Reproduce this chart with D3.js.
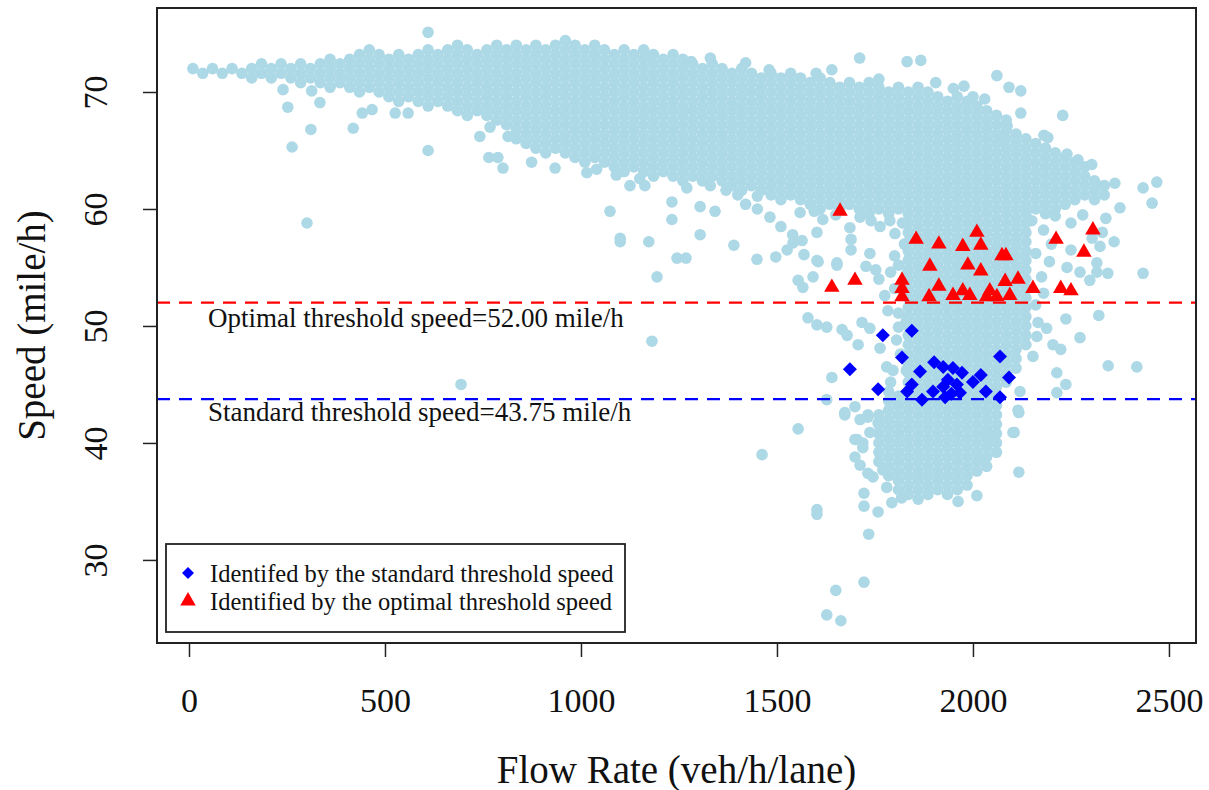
<!DOCTYPE html>
<html lang="en">
<head>
  <meta charset="UTF-8">
  <title>Speed vs Flow Rate</title>
  <script src="https://d3js.org/d3.v7.min.js"></script>
  <style>
    body {
      margin: 0;
      background: #fff;
      font-family: "Liberation Serif", "Times New Roman", serif;
    }
    .dot { fill: #ADD8E6; }
    .tick line { stroke: #222; stroke-width: 1.5px; }
    .tick text { font-family: "Liberation Serif", "Times New Roman", serif; font-size: 34px; fill: #111; }
    .title { font-size: 39px; fill: #111; text-anchor: middle; }
    .note { font-size: 27px; fill: #111; }
    .legend text { font-size: 24.5px; fill: #111; }
  </style>
</head>
<body>
  <svg width="1209" height="790"></svg>
  <script>
    // tick labels
    const xTicks = [0, 500, 1000, 1500, 2000, 2500];
    const yTicks = [30, 40, 50, 60, 70];

    // threshold speeds (mile/h)
    const optimalSpeed = 52.00;
    const standardSpeed = 43.75;

    // dense observation cloud, read column by column: [flow, "speeds"]
    const bandColumns = [
      [10, "72.0"], [35, "71.6"], [60, "72.0"], [85, "71.6"], [110, "72.0"], [135, "71.6"],
      [160, "72.0 71.2"], [185, "72.4 71.6"], [210, "72.0 71.2"], [235, "72.4 71.6"],
      [260, "72.0 71.2"], [285, "72.4 71.6 70.8"], [310, "72.0 71.2"], [335, "72.4 71.6 70.8"],
      [360, "72.8 72.0 71.2 70.4"], [385, "72.4 71.6 70.8"], [410, "72.8 72.0 71.2 70.4"],
      [435, "73.2 72.4 71.6 70.8 70.0"], [460, "73.6 72.8 72.0 71.2 70.4"],
      [485, "73.2 72.4 71.6 70.8 70.0"], [510, "72.8 72.0 71.2 70.4 69.6"],
      [535, "73.2 72.4 71.6 70.8 70.0 69.2"], [560, "72.8 72.0 71.2 70.4 69.6"],
      [585, "73.2 72.4 71.6 70.8 70.0 69.2"], [610, "73.6 72.8 72.0 71.2 70.4 69.6 68.8"],
      [635, "73.2 72.4 71.6 70.8 70.0 69.2"], [660, "73.6 72.8 72.0 71.2 70.4 69.6 68.8"],
      [685, "74.0 73.2 72.4 71.6 70.8 70.0 69.2 68.4"], [710, "73.6 72.8 72.0 71.2 70.4 69.6 68.8 68.0"],
      [735, "73.2 72.4 71.6 70.8 70.0 69.2 68.4"], [760, "73.6 72.8 72.0 71.2 70.4 69.6 68.8 68.0"],
      [785, "74.0 73.2 72.4 71.6 70.8 70.0 69.2 68.4 67.6"],
      [810, "73.6 72.8 72.0 71.2 70.4 69.6 68.8 68.0 67.2"],
      [835, "74.0 73.2 72.4 71.6 70.8 70.0 69.2 68.4 67.6 66.8 66.0"],
      [860, "73.6 72.8 72.0 71.2 70.4 69.6 68.8 68.0 67.2 66.4 65.6"],
      [885, "74.0 73.2 72.4 71.6 70.8 70.0 69.2 68.4 67.6 66.8 66.0 65.2"],
      [910, "73.6 72.8 72.0 71.2 70.4 69.6 68.8 68.0 67.2 66.4 65.6 64.8"],
      [935, "74.0 73.2 72.4 71.6 70.8 70.0 69.2 68.4 67.6 66.8 66.0 65.2"],
      [960, "74.4 73.6 72.8 72.0 71.2 70.4 69.6 68.8 68.0 67.2 66.4 65.6 64.8"],
      [985, "74.0 73.2 72.4 71.6 70.8 70.0 69.2 68.4 67.6 66.8 66.0 65.2 64.4"],
      [1010, "73.6 72.8 72.0 71.2 70.4 69.6 68.8 68.0 67.2 66.4 65.6 64.8 64.0"],
      [1035, "74.0 73.2 72.4 71.6 70.8 70.0 69.2 68.4 67.6 66.8 66.0 65.2 64.4"],
      [1060, "73.6 72.8 72.0 71.2 70.4 69.6 68.8 68.0 67.2 66.4 65.6 64.8 64.0"],
      [1085, "73.2 72.4 71.6 70.8 70.0 69.2 68.4 67.6 66.8 66.0 65.2 64.4 63.6"],
      [1110, "73.6 72.8 72.0 71.2 70.4 69.6 68.8 68.0 67.2 66.4 65.6 64.8 64.0 63.2"],
      [1135, "73.2 72.4 71.6 70.8 70.0 69.2 68.4 67.6 66.8 66.0 65.2 64.4 63.6"],
      [1160, "73.6 72.8 72.0 71.2 70.4 69.6 68.8 68.0 67.2 66.4 65.6 64.8 64.0 63.2"],
      [1185, "73.2 72.4 71.6 70.8 70.0 69.2 68.4 67.6 66.8 66.0 65.2 64.4 63.6 62.8"],
      [1210, "72.8 72.0 71.2 70.4 69.6 68.8 68.0 67.2 66.4 65.6 64.8 64.0 63.2"],
      [1235, "73.2 72.4 71.6 70.8 70.0 69.2 68.4 67.6 66.8 66.0 65.2 64.4 63.6 62.8"],
      [1260, "72.8 72.0 71.2 70.4 69.6 68.8 68.0 67.2 66.4 65.6 64.8 64.0 63.2 62.4"],
      [1285, "72.4 71.6 70.8 70.0 69.2 68.4 67.6 66.8 66.0 65.2 64.4 63.6 62.8"],
      [1310, "72.0 71.2 70.4 69.6 68.8 68.0 67.2 66.4 65.6 64.8 64.0 63.2 62.4"],
      [1335, "72.4 71.6 70.8 70.0 69.2 68.4 67.6 66.8 66.0 65.2 64.4 63.6 62.8"],
      [1360, "72.0 71.2 70.4 69.6 68.8 68.0 67.2 66.4 65.6 64.8 64.0 63.2 62.4"],
      [1385, "71.6 70.8 70.0 69.2 68.4 67.6 66.8 66.0 65.2 64.4 63.6 62.8 62.0"],
      [1410, "72.0 71.2 70.4 69.6 68.8 68.0 67.2 66.4 65.6 64.8 64.0 63.2 62.4 61.6"],
      [1435, "71.6 70.8 70.0 69.2 68.4 67.6 66.8 66.0 65.2 64.4 63.6 62.8 62.0"],
      [1460, "71.2 70.4 69.6 68.8 68.0 67.2 66.4 65.6 64.8 64.0 63.2 62.4 61.6"],
      [1485, "71.6 70.8 70.0 69.2 68.4 67.6 66.8 66.0 65.2 64.4 63.6 62.8 62.0 61.2"],
      [1510, "71.2 70.4 69.6 68.8 68.0 67.2 66.4 65.6 64.8 64.0 63.2 62.4 61.6 60.8"],
      [1535, "71.6 70.8 70.0 69.2 68.4 67.6 66.8 66.0 65.2 64.4 63.6 62.8 62.0 61.2"],
      [1560, "71.2 70.4 69.6 68.8 68.0 67.2 66.4 65.6 64.8 64.0 63.2 62.4 61.6 60.8"],
      [1585, "70.8 70.0 69.2 68.4 67.6 66.8 66.0 65.2 64.4 63.6 62.8 62.0 61.2 60.4"],
      [1610, "71.2 70.4 69.6 68.8 68.0 67.2 66.4 65.6 64.8 64.0 63.2 62.4 61.6 60.8 60.0"],
      [1635, "70.8 70.0 69.2 68.4 67.6 66.8 66.0 65.2 64.4 63.6 62.8 62.0 61.2 60.4"],
      [1660, "70.4 69.6 68.8 68.0 67.2 66.4 65.6 64.8 64.0 63.2 62.4 61.6 60.8 60.0"],
      [1685, "70.8 70.0 69.2 68.4 67.6 66.8 66.0 65.2 64.4 63.6 62.8 62.0 61.2 60.4"],
      [1710, "70.4 69.6 68.8 68.0 67.2 66.4 65.6 64.8 64.0 63.2 62.4 61.6 60.8 60.0"],
      [1735, "70.8 70.0 69.2 68.4 67.6 66.8 66.0 65.2 64.4 63.6 62.8 62.0 61.2 60.4 59.6"],
      [1760, "70.4 69.6 68.8 68.0 67.2 66.4 65.6 64.8 64.0 63.2 62.4 61.6 60.8 60.0"],
      [1785, "70.0 69.2 68.4 67.6 66.8 66.0 65.2 64.4 63.6 62.8 62.0 61.2 60.4 59.6"],
      [1810, "70.4 69.6 68.8 68.0 67.2 66.4 65.6 64.8 64.0 63.2 62.4 61.6 60.8 60.0"],
      [2160, "65.6 64.8 64.0 63.2 62.4 61.6 60.8 60.0"],
      [2185, "65.2 64.4 63.6 62.8 62.0 61.2 60.4 59.6"],
      [2210, "64.8 64.0 63.2 62.4 61.6 60.8 60.0"],
      [2235, "64.4 63.6 62.8 62.0 61.2 60.4"],
      [2260, "64.0 63.2 62.4 61.6 60.8"],
      [2285, "63.6 62.8 62.0 61.2"],
      [2310, "62.4 61.6 60.8"],
      [2335, "62.0 61.2"]
    ];

    // the congested core around 1800-2150 veh/h/lane
    const coreColumns = [
      [1760, "42.4 41.6 40.8 40.0 39.2 38.4"],
      [1785, "44.4 43.6 42.8 42.0 41.2 40.4 39.6 38.8 38.0 37.2"],
      [1810, "44.0 43.2 42.4 41.6 40.8 40.0 39.2 38.4 37.6 36.8 36.0"],
      [1835, "70.0 69.2 68.4 67.6 66.8 66.0 65.2 64.4 63.6 62.8 62.0 61.2 60.4 59.6 58.8 58.0 57.2 56.4 55.6 54.8 54.0 53.2 52.4 51.6 50.8 50.0 49.2 48.4 47.6 46.8 46.0 45.2 44.4 43.6 42.8 42.0 41.2 40.4 39.6 38.8 38.0 37.2 36.4 35.6"],
      [1860, "70.4 69.6 68.8 68.0 67.2 66.4 65.6 64.8 64.0 63.2 62.4 61.6 60.8 60.0 59.2 58.4 57.6 56.8 56.0 55.2 54.4 53.6 52.8 52.0 51.2 50.4 49.6 48.8 48.0 47.2 46.4 45.6 44.8 44.0 43.2 42.4 41.6 40.8 40.0 39.2 38.4 37.6 36.8 36.0 35.2"],
      [1885, "70.0 69.2 68.4 67.6 66.8 66.0 65.2 64.4 63.6 62.8 62.0 61.2 60.4 59.6 58.8 58.0 57.2 56.4 55.6 54.8 54.0 53.2 52.4 51.6 50.8 50.0 49.2 48.4 47.6 46.8 46.0 45.2 44.4 43.6 42.8 42.0 41.2 40.4 39.6 38.8 38.0 37.2 36.4 35.6"],
      [1910, "69.6 68.8 68.0 67.2 66.4 65.6 64.8 64.0 63.2 62.4 61.6 60.8 60.0 59.2 58.4 57.6 56.8 56.0 55.2 54.4 53.6 52.8 52.0 51.2 50.4 49.6 48.8 48.0 47.2 46.4 45.6 44.8 44.0 43.2 42.4 41.6 40.8 40.0 39.2 38.4 37.6 36.8 36.0"],
      [1935, "69.2 68.4 67.6 66.8 66.0 65.2 64.4 63.6 62.8 62.0 61.2 60.4 59.6 58.8 58.0 57.2 56.4 55.6 54.8 54.0 53.2 52.4 51.6 50.8 50.0 49.2 48.4 47.6 46.8 46.0 45.2 44.4 43.6 42.8 42.0 41.2 40.4 39.6 38.8 38.0 37.2 36.4 35.6"],
      [1960, "69.6 68.8 68.0 67.2 66.4 65.6 64.8 64.0 63.2 62.4 61.6 60.8 60.0 59.2 58.4 57.6 56.8 56.0 55.2 54.4 53.6 52.8 52.0 51.2 50.4 49.6 48.8 48.0 47.2 46.4 45.6 44.8 44.0 43.2 42.4 41.6 40.8 40.0 39.2 38.4 37.6 36.8 36.0"],
      [1985, "69.2 68.4 67.6 66.8 66.0 65.2 64.4 63.6 62.8 62.0 61.2 60.4 59.6 58.8 58.0 57.2 56.4 55.6 54.8 54.0 53.2 52.4 51.6 50.8 50.0 49.2 48.4 47.6 46.8 46.0 45.2 44.4 43.6 42.8 42.0 41.2 40.4 39.6 38.8 38.0 37.2 36.4"],
      [2010, "68.8 68.0 67.2 66.4 65.6 64.8 64.0 63.2 62.4 61.6 60.8 60.0 59.2 58.4 57.6 56.8 56.0 55.2 54.4 53.6 52.8 52.0 51.2 50.4 49.6 48.8 48.0 47.2 46.4 45.6 44.8 44.0 43.2 42.4 41.6 40.8 40.0 39.2 38.4 37.6"],
      [2035, "68.4 67.6 66.8 66.0 65.2 64.4 63.6 62.8 62.0 61.2 60.4 59.6 58.8 58.0 57.2 56.4 55.6 54.8 54.0 53.2 52.4 51.6 50.8 50.0 49.2 48.4 47.6 46.8 46.0 45.2 44.4 43.6 42.8 42.0 41.2 40.4 39.6 38.8 38.0"],
      [2060, "68.0 67.2 66.4 65.6 64.8 64.0 63.2 62.4 61.6 60.8 60.0 59.2 58.4 57.6 56.8 56.0 55.2 54.4 53.6 52.8 52.0 51.2 50.4 49.6 48.8 48.0 47.2 46.4 45.6 44.8 44.0 43.2 42.4 41.6 40.8 40.0 39.2"],
      [2085, "67.6 66.8 66.0 65.2 64.4 63.6 62.8 62.0 61.2 60.4 59.6 58.8 58.0 57.2 56.4 55.6 54.8 54.0 53.2 52.4 51.6 50.8 50.0 49.2 48.4 47.6 46.8 46.0 45.2"],
      [2110, "66.4 65.6 64.8 64.0 63.2 62.4 61.6 60.8 60.0 59.2 58.4 57.6 56.8 56.0 55.2 54.4 53.6 52.8 52.0 51.2 50.4 49.6 48.8 48.0 47.2 46.4"],
      [2135, "66.0 65.2 64.4 63.6 62.8 62.0 61.2 60.4 59.6 58.8 58.0 57.2 56.4 55.6 54.8 54.0 53.2 52.4 51.6 50.8 50.0 49.2 48.4"]
    ];

    // isolated observations outside the dense cloud: [flow, speed]
    const scatterPoints = [
      [610, 75.1], [252, 68.7], [334, 69.1], [311, 66.8], [263, 65.3], [419, 66.9], [442, 68.2],
      [467, 68.5], [610, 65.0], [301, 58.8], [694, 45.0], [240, 70.2], [313, 70.1], [526, 68.2],
      [559, 68.2], [742, 66.2], [768, 67.0], [814, 66.2], [765, 64.4], [788, 64.4], [801, 63.5],
      [874, 64.0], [934, 63.5], [1015, 63.1], [1074, 59.8], [1125, 62.0], [1163, 62.0],
      [1100, 57.5], [1100, 57.2], [1173, 57.2], [1232, 60.6], [1232, 59.1], [1304, 60.2],
      [1342, 59.8], [1304, 57.8], [1245, 55.8], [1268, 55.8], [1390, 56.9], [1194, 54.2],
      [1181, 48.7], [1462, 39.0], [1554, 41.2], [1420, 60.4], [1450, 60.0], [1400, 61.2],
      [1482, 59.3], [1510, 58.5], [1540, 57.8], [1564, 57.3], [1449, 55.7], [1497, 55.9],
      [1569, 56.1], [1605, 55.5], [1653, 55.2], [1689, 57.4], [1689, 56.5], [1737, 56.2],
      [1727, 55.1], [1752, 54.8], [1526, 56.5], [1541, 57.1], [1602, 58.0], [1617, 59.1],
      [1559, 59.7], [1686, 58.4], [1712, 59.3], [1763, 58.5], [1788, 59.0], [1801, 57.9],
      [1653, 55.4], [1602, 55.6], [1554, 53.9], [1566, 53.3], [1592, 54.2], [1579, 50.7],
      [1602, 50.1], [1627, 49.9], [1666, 49.7], [1679, 49.2], [1717, 50.3], [1737, 49.8],
      [1627, 43.7], [1640, 45.6], [1673, 42.6], [1699, 43.1], [1712, 42.0], [1732, 42.2],
      [1737, 40.9], [1704, 40.3], [1719, 39.6], [1707, 48.4], [1763, 48.1], [1780, 46.5],
      [1796, 46.2], [1783, 51.3], [1810, 51.1], [1810, 49.9], [1800, 56.0], [1820, 58.8],
      [1810, 55.2], [1790, 54.6], [1760, 54.0], [1825, 57.0], [1830, 54.4], [1800, 53.2],
      [1775, 52.6], [1830, 50.4], [1805, 48.8], [1815, 47.6], [1830, 46.2], [1790, 45.2],
      [1602, 34.3], [1602, 33.9], [1627, 25.3], [1663, 24.8], [1650, 27.4], [1722, 28.1],
      [1734, 32.2], [1722, 35.7], [1722, 34.6], [1758, 34.1], [1793, 34.9], [1818, 35.3],
      [2010, 35.5], [1962, 35.0], [2117, 37.5], [2105, 40.9], [2117, 42.6], [2020, 38.5],
      [1673, 42.4], [1699, 40.3], [1719, 40.0], [1699, 38.8], [1712, 38.1], [1732, 37.4],
      [1745, 37.1], [1770, 37.7], [1780, 36.2], [1732, 42.4], [1758, 41.7], [2051, 40.4],
      [2035, 40.9], [1711, 72.9], [1832, 72.6], [1867, 72.7], [1977, 70.5], [2061, 71.4],
      [2092, 70.4], [2122, 70.1], [2122, 68.2], [2229, 68.0], [2087, 67.1], [2074, 66.1],
      [2181, 66.3], [2191, 66.1], [2303, 63.8], [2362, 62.2], [2434, 61.8], [2469, 62.3],
      [2457, 60.5], [2434, 54.5], [2375, 60.1], [2314, 62.1], [2339, 59.2], [2240, 64.7],
      [2268, 64.2], [2418, 46.5], [2321, 50.9], [2345, 46.6], [2273, 49.0], [2237, 50.6],
      [2214, 46.0], [2237, 45.0], [2214, 44.3], [2224, 48.0], [2204, 48.4], [2188, 49.8],
      [2166, 50.3], [2163, 49.1], [2153, 47.4], [2120, 44.4], [2115, 42.8], [2102, 40.9],
      [2240, 55.0], [2273, 54.6], [2298, 53.9], [2316, 54.6], [2344, 54.5], [2324, 56.8],
      [2304, 57.5], [2316, 55.4], [2150, 59.0], [2180, 58.2], [2210, 59.4], [2250, 58.8],
      [2200, 57.0], [2160, 56.2], [2250, 56.5], [2280, 59.5], [2175, 54.2], [2195, 55.5],
      [2330, 58.0], [2360, 57.2], [2160, 51.8], [2180, 52.8], [1169, 73.1], [1281, 72.6],
      [1330, 72.9], [1420, 72.5], [1480, 71.9], [1600, 71.6], [1640, 71.9], [1760, 71.1],
      [1905, 70.8], [1950, 70.3], [2000, 69.6], [2030, 69.4], [1040, 63.4], [1090, 62.9],
      [1150, 62.6], [1270, 61.8], [1330, 62.0], [1370, 61.6], [1450, 61.1], [1595, 59.8],
      [1650, 59.5], [1740, 59.0]
    ];

    // points identified by the standard threshold speed
    const standardPoints = [
      [1770, 49.2], [1844, 49.6], [1819, 47.3], [1686, 46.3], [1758, 44.6], [1865, 46.1],
      [1870, 43.7], [1832, 44.4], [1844, 45.0], [1901, 46.9], [1924, 46.5], [1949, 46.4],
      [1972, 46.0], [1936, 45.4], [1959, 45.0], [1924, 44.8], [1898, 44.4], [1929, 43.9],
      [1967, 44.3], [2000, 45.2], [2020, 45.8], [2033, 44.4], [2069, 47.4], [2092, 45.6],
      [2069, 43.9], [1945, 44.2]
    ];

    // points identified by the optimal threshold speed
    const optimalPoints = [
      [1661, 59.8], [1640, 53.3], [1699, 53.9], [1855, 57.4], [1913, 57.0], [1974, 56.8],
      [2010, 58.0], [2020, 56.9], [2074, 56.0], [2084, 56.0], [1890, 55.1], [1987, 55.2],
      [2020, 54.7], [1819, 53.9], [1819, 53.2], [1819, 52.5], [1913, 53.4], [1888, 52.5],
      [1949, 52.6], [1974, 53.0], [1992, 52.6], [2043, 53.0], [2035, 52.5], [2061, 52.5],
      [2082, 53.8], [2094, 52.6], [2115, 54.0], [2153, 53.2], [2212, 57.4], [2306, 58.2],
      [2283, 56.3], [2224, 53.2], [2250, 53.0]
    ];

    const legendLabels = [
      "Identifed by the standard threshold speed",
      "Identified by the optimal threshold speed"
    ];

    const plotLeft = 157, plotRight = 1196, plotTop = 8, plotBottom = 643;

    const x = d3.scaleLinear().domain([-81.6, 2569]).range([plotLeft, plotRight]);
    const y = d3.scaleLinear().domain([22.9, 77.18]).range([plotBottom, plotTop]);

    const svg = d3.select("svg");

    svg.append("clipPath").attr("id", "plotArea")
      .append("rect")
      .attr("x", plotLeft).attr("y", plotTop)
      .attr("width", plotRight - plotLeft).attr("height", plotBottom - plotTop);

    const plot = svg.append("g").attr("clip-path", "url(#plotArea)");

    const toPoints = cols => cols.flatMap(([f, s]) => s.split(" ").map(v => [f, +v]));
    const cloud = toPoints(bandColumns).concat(toPoints(coreColumns), scatterPoints);

    plot.selectAll(".dot")
      .data(cloud)
      .enter()
      .append("circle")
      .attr("class", "dot")
      .attr("cx", d => x(d[0]))
      .attr("cy", d => y(d[1]))
      .attr("r", 5.8);

    // threshold lines
    const lines = [
      { v: optimalSpeed, color: "#FF0000" },
      { v: standardSpeed, color: "#0000FF" }
    ];
    plot.selectAll(".thr")
      .data(lines)
      .enter()
      .append("line")
      .attr("class", "thr")
      .attr("x1", plotLeft).attr("x2", plotRight)
      .attr("y1", d => y(d.v)).attr("y2", d => y(d.v))
      .attr("stroke", d => d.color)
      .attr("stroke-width", 2.2)
      .attr("stroke-dasharray", "13,9");

    const diamond = "M0,-7L7,0L0,7L-7,0Z";
    const triangle = d3.symbol().type(d3.symbolTriangle).size(104)();

    plot.selectAll(".std")
      .data(standardPoints)
      .enter()
      .append("path")
      .attr("class", "std")
      .attr("d", diamond)
      .attr("fill", "#0000FF")
      .attr("transform", d => `translate(${x(d[0])},${y(d[1])})`);

    plot.selectAll(".opt")
      .data(optimalPoints)
      .enter()
      .append("path")
      .attr("class", "opt")
      .attr("d", triangle)
      .attr("fill", "#FF0000")
      .attr("transform", d => `translate(${x(d[0])},${y(d[1])})`);

    // threshold notes
    svg.append("text").attr("class", "note")
      .attr("x", 208).attr("y", y(optimalSpeed) + 24)
      .text("Optimal threshold speed=" + optimalSpeed.toFixed(2) + " mile/h");
    svg.append("text").attr("class", "note")
      .attr("x", 208).attr("y", y(standardSpeed) + 22)
      .text("Standard threshold speed=" + standardSpeed.toFixed(2) + " mile/h");

    // axes
    svg.append("g")
      .attr("transform", `translate(0,${plotBottom})`)
      .call(d3.axisBottom(x).tickValues(xTicks).tickFormat(d3.format("d")).tickSize(14).tickPadding(0))
      .call(g => g.select(".domain").remove())
      .call(g => g.selectAll(".tick text").attr("y", 69).attr("dy", 0));

    svg.append("g")
      .attr("transform", `translate(${plotLeft},0)`)
      .call(d3.axisLeft(y).tickValues(yTicks).tickFormat(d3.format("d")).tickSize(14))
      .call(g => g.select(".domain").remove())
      .call(g => g.selectAll(".tick text")
        .attr("transform", "rotate(-90)")
        .attr("x", 0).attr("y", -50).attr("dy", 0)
        .attr("text-anchor", "middle"));

    // frame
    svg.append("rect")
      .attr("x", plotLeft).attr("y", plotTop)
      .attr("width", plotRight - plotLeft).attr("height", plotBottom - plotTop)
      .attr("fill", "none").attr("stroke", "#222").attr("stroke-width", 2);

    // axis titles
    svg.append("text").attr("class", "title")
      .attr("x", (plotLeft + plotRight) / 2).attr("y", 783)
      .text("Flow Rate (veh/h/lane)");
    svg.append("text").attr("class", "title")
      .attr("transform", `translate(45,${(plotTop + plotBottom) / 2}) rotate(-90)`)
      .text("Speed (mile/h)");

    // legend
    const legend = svg.append("g").attr("class", "legend");
    legend.append("rect")
      .attr("x", 166).attr("y", 544).attr("width", 459).attr("height", 88)
      .attr("fill", "#fff").attr("stroke", "#222").attr("stroke-width", 1.8);
    legend.append("path").attr("d", "M0,-6L6,0L0,6L-6,0Z").attr("fill", "#0000FF")
      .attr("transform", "translate(188,573)");
    legend.append("path").attr("d", triangle).attr("fill", "#FF0000")
      .attr("transform", "translate(188,601)");
    legend.selectAll(".lab")
      .data(legendLabels)
      .enter()
      .append("text")
      .attr("class", "lab")
      .attr("x", 210)
      .attr("y", (d, i) => 582 + i * 28)
      .text(d => d);
  </script>
</body>
</html>
